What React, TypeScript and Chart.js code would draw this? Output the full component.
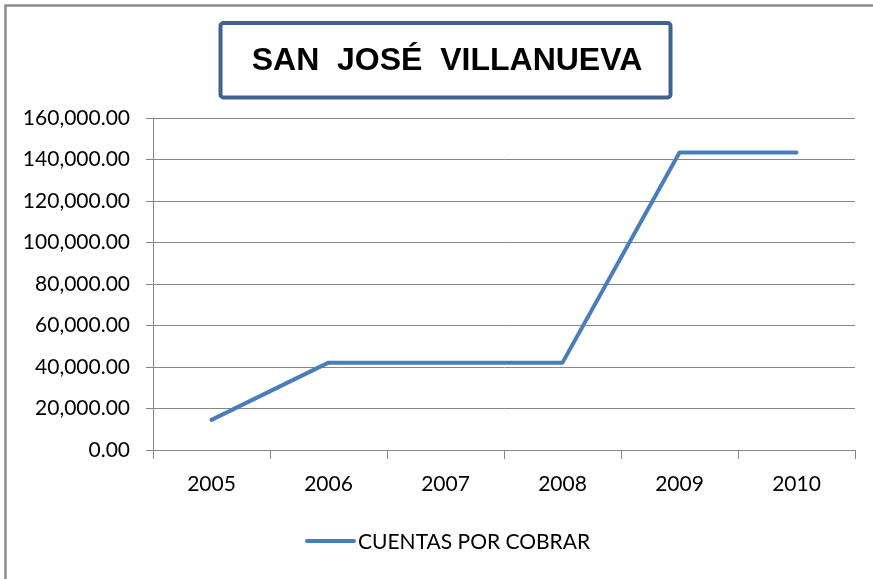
import React, { useEffect, useRef } from "react";
import { Chart, registerables } from "chart.js";

Chart.register(...registerables);

const titleText = "SAN  JOSÉ  VILLANUEVA";
const categories = ["2005", "2006", "2007", "2008", "2009", "2010"];
const seriesLabel = "CUENTAS POR COBRAR";
const cuentasPorCobrar = [14500, 42100, 42100, 42100, 143400, 143400];
const yMin = 0;
const yMax = 160000;
const yStep = 20000;

const LINE_COLOR = "#4a7ebb";
const GRID_COLOR = "#868686";
const TICK_FONT = "Lato";

const decorPlugin = {
  id: "decor",
  beforeDraw(chart: any) {
    const ctx = chart.ctx;
    ctx.save();
    ctx.fillStyle = "#ffffff";
    ctx.fillRect(0, 0, chart.width, chart.height);
    // outer chart border (only top and left visible)
    ctx.strokeStyle = "#8c8c8c";
    ctx.lineWidth = 2.5;
    ctx.beginPath();
    ctx.moveTo(5.5, chart.height + 5);
    ctx.lineTo(5.5, 5.5);
    ctx.lineTo(chart.width + 5, 5.5);
    ctx.stroke();
    ctx.restore();
  },
  afterDraw(chart: any) {
    const ctx = chart.ctx;
    ctx.save();
    // title box
    ctx.strokeStyle = "#41628f";
    ctx.lineWidth = 4;
    ctx.beginPath();
    (ctx as any).roundRect
      ? (ctx as any).roundRect(220.5, 23, 450, 74.5, 3)
      : ctx.rect(220.5, 23, 450, 74.5);
    ctx.stroke();
    ctx.fillStyle = "#000000";
    ctx.font = "bold 32px 'Liberation Sans', Arial, sans-serif";
    ctx.textAlign = "center";
    ctx.textBaseline = "middle";
    ctx.fillText(titleText, 447, 61);
    // legend
    const ds = chart.data.datasets[0];
    ctx.strokeStyle = ds.borderColor;
    ctx.lineWidth = 4;
    ctx.lineCap = "round";
    ctx.beginPath();
    ctx.moveTo(307, 541);
    ctx.lineTo(354, 541);
    ctx.stroke();
    ctx.font = `21px ${TICK_FONT}`;
    ctx.textAlign = "left";
    ctx.textBaseline = "middle";
    ctx.fillStyle = "#000000";
    ctx.fillText(ds.label, 358, 542);
    ctx.restore();
  },
};

export default function App() {
  const ref = useRef<HTMLCanvasElement>(null);
  useEffect(() => {
    document.body.style.margin = "0";
    const canvas = ref.current!;
    const chart = new Chart(canvas, {
      type: "line",
      data: {
        labels: categories,
        datasets: [
          {
            label: seriesLabel,
            data: cuentasPorCobrar,
            borderColor: LINE_COLOR,
            backgroundColor: LINE_COLOR,
            borderWidth: 4,
            pointRadius: 0,
            pointHoverRadius: 0,
            tension: 0,
            borderCapStyle: "round",
            borderJoinStyle: "round",
          },
        ],
      },
      options: {
        responsive: false,
        animation: false,
        devicePixelRatio: 1,
        layout: { padding: { top: 118, right: 18, bottom: 0, left: 0 } },
        plugins: {
          legend: { display: false },
          title: { display: false },
          tooltip: { enabled: false },
        },
        scales: {
          x: {
            type: "category",
            offset: true,
            grid: {
              offset: true,
              drawOnChartArea: false,
              drawTicks: true,
              tickLength: 9,
              color: GRID_COLOR,
            },
            border: { display: true, color: GRID_COLOR, width: 1 },
            ticks: {
              color: "#000000",
              font: { family: TICK_FONT, size: 21 },
              padding: 13,
              maxRotation: 0,
              autoSkip: false,
            },
            afterFit(scale: any) {
              scale.height = 129;
            },
          },
          y: {
            min: yMin,
            max: yMax,
            grid: {
              color: GRID_COLOR,
              lineWidth: 1,
              drawTicks: true,
              tickLength: 7,
            },
            border: { display: true, color: GRID_COLOR, width: 1 },
            ticks: {
              stepSize: yStep,
              color: "#000000",
              font: { family: TICK_FONT, size: 21 },
              padding: 16,
              callback: (v: any) =>
                Number(v).toLocaleString("en-US", {
                  minimumFractionDigits: 2,
                  maximumFractionDigits: 2,
                }),
            },
            afterFit(scale: any) {
              scale.width = 153;
            },
          },
        },
      },
      plugins: [decorPlugin],
    });
    return () => chart.destroy();
  }, []);
  return (
    <canvas
      ref={ref}
      width={873}
      height={579}
      style={{ display: "block", width: "873px", height: "579px" }}
    />
  );
}
